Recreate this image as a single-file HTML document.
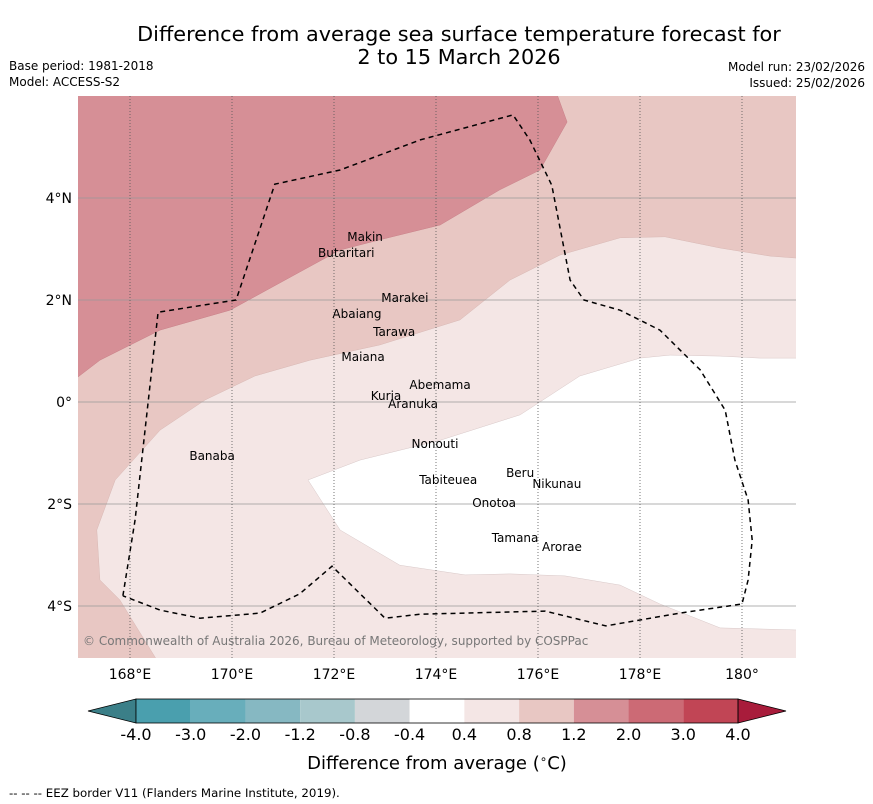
<!DOCTYPE html>
<html><head><meta charset="utf-8">
<style>
body{margin:0;background:#fff;width:873px;height:804px;overflow:hidden;font-family:"DejaVu Sans","Liberation Sans",sans-serif;}
svg{display:block}
</style></head>
<body>
<svg id="chart" width="873" height="804" font-family="DejaVu Sans, Liberation Sans, sans-serif">
<text x="459" y="41" text-anchor="middle" font-size="20.8">Difference from average sea surface temperature forecast for</text>
<text x="459" y="64" text-anchor="middle" font-size="20.8">2 to 15 March 2026</text>
<text x="9" y="70" font-size="12">Base period: 1981-2018</text>
<text x="9" y="86" font-size="12">Model: ACCESS-S2</text>
<text x="865" y="71" font-size="12" text-anchor="end">Model run: 23/02/2026</text>
<text x="865" y="87" font-size="12" text-anchor="end">Issued: 25/02/2026</text>
<defs><clipPath id="mapclip"><rect x="78" y="96" width="718" height="562"/></clipPath></defs>
<g id="map" clip-path="url(#mapclip)"></g>
<g id="overlay"></g>
<g id="cbar"></g>
<text x="437" y="769" text-anchor="middle" font-size="18">Difference from average (<tspan font-size="12" dy="-6">∘</tspan><tspan dy="6">C)</tspan></text>
<text x="9" y="797" font-size="11.8">--  --  -- EEZ border V11 (Flanders Marine Institute, 2019).</text>
</svg>
<script>
const lonTicks=[168,170,172,174,176,178,180];
const lonLabels=["168°E","170°E","172°E","174°E","176°E","178°E","180°"];
const latTicks=[4,2,0,-2,-4];
const latLabels=["4°N","2°N","0°","2°S","4°S"];
const levels=["-4.0","-3.0","-2.0","-1.2","-0.8","-0.4","0.4","0.8","1.2","2.0","3.0","4.0"];
const levelColors=["#4a9fae","#68aebb","#86b8c2","#a8c8cc","#d3d6d9","#ffffff","#f4e6e5","#e8c7c3","#d68f96","#cc6a75","#c14555"];
const zoneWhite=[[171.49,-1.53],[172.51,-1.14],[174.08,-0.75],[175.65,-0.25],[176.82,0.51],[178.0,0.86],[178.59,0.92],[179.57,0.90],[180.35,0.86],[181.1,0.86],[181.1,-4.47],[179.57,-4.43],[178.39,-3.96],[177.61,-3.59],[176.53,-3.41],[175.45,-3.37],[174.57,-3.39],[173.29,-3.20],[172.12,-2.51]];
const zone08=[[168.55,-5.1],[167.80,-3.88],[167.41,-3.49],[167.35,-2.51],[167.71,-1.53],[168.59,-0.55],[169.47,0.04],[170.45,0.51],[171.53,0.82],[172.90,1.12],[174.47,1.61],[175.45,2.39],[176.43,2.88],[177.61,3.22],[178.49,3.24],[179.57,3.02],[180.55,2.86],[181.1,2.82],[181.1,6.1],[166.9,6.1],[166.9,-5.1]];
const zone12=[[166.9,0.43],[167.41,0.82],[168.59,1.41],[169.96,1.80],[171.33,2.55],[172.12,2.98],[172.90,3.18],[174.08,3.47],[175.25,4.16],[176.04,4.55],[176.57,5.49],[176.35,6.1],[166.9,6.1]];
const eez=[[167.86,-3.80],[168.10,-2.31],[168.55,1.76],[170.08,2.0],[170.84,4.27],[172.12,4.55],[173.69,5.14],[175.51,5.63],[175.84,5.14],[176.27,4.25],[176.63,2.39],[176.90,2.0],[177.61,1.80],[178.39,1.41],[179.18,0.63],[179.67,-0.16],[179.86,-1.14],[180.12,-1.92],[180.20,-2.71],[180.12,-3.49],[180.0,-3.96],[178.78,-4.14],[177.33,-4.39],[176.14,-4.10],[173.69,-4.16],[173.0,-4.24],[171.96,-3.22],[171.33,-3.76],[170.55,-4.14],[169.37,-4.24],[168.59,-4.08],[167.86,-3.80]];
const islandNames=["Makin","Butaritari","Marakei","Abaiang","Tarawa","Maiana","Abemama","Kuria","Aranuka","Nonouti","Banaba","Beru","Nikunau","Tabiteuea","Onotoa","Tamana","Arorae"];
const islandLon=[172.61,172.24,173.39,172.45,173.18,172.57,174.08,173.02,173.55,173.98,169.61,175.65,176.37,174.24,175.14,175.55,176.47];
const islandLat=[3.24,2.92,2.04,1.73,1.37,0.88,0.33,0.12,-0.04,-0.82,-1.06,-1.39,-1.61,-1.53,-1.98,-2.67,-2.84];

const NS="http://www.w3.org/2000/svg";
const X0=79,Y0=402,PPD=51;
function xs(lon){return X0+(lon-167)*PPD;}
function ys(lat){return Y0-lat*PPD;}
function el(t,a,p){const e=document.createElementNS(NS,t);for(const k in a)e.setAttribute(k,a[k]);p.appendChild(e);return e;}
function pts(arr){return arr.map(p=>xs(p[0]).toFixed(1)+","+ys(p[1]).toFixed(1)).join(" ");}
const map=document.getElementById("map"),ov=document.getElementById("overlay");
let r=el("rect",{x:78,y:96,width:718,height:562,fill:levelColors[6]},map);


let p=el("polygon",{points:pts(zoneWhite),fill:levelColors[5],stroke:"#d8c8c8","stroke-width":0.5},map);


p=el("polygon",{points:pts(zone08),fill:levelColors[7],stroke:"#d8b8b4","stroke-width":0.5},map);


p=el("polygon",{points:pts(zone12),fill:levelColors[8],stroke:"#c88088","stroke-width":0.5},map);


latTicks.forEach((v,i)=>{
 const l=el("line",{x1:78,x2:796,y1:ys(v),y2:ys(v),stroke:"#999","stroke-width":0.8},map);
 
 
 const t=el("text",{x:72,y:ys(v)+5,"text-anchor":"end","font-size":14},ov);t.textContent=latLabels[i];
 
 
});
lonTicks.forEach((v,i)=>{
 const l=el("line",{x1:xs(v),x2:xs(v),y1:96,y2:658,stroke:"#555","stroke-width":0.8,"stroke-dasharray":"1,2"},map);
 
 
 const t=el("text",{x:xs(v),y:679,"text-anchor":"middle","font-size":14},ov);t.textContent=lonLabels[i];
 
 
});
p=el("polyline",{points:pts(eez),fill:"none",stroke:"#000","stroke-width":1.5,"stroke-dasharray":"5,4"},map);


islandNames.forEach((n,i)=>{
 const t=el("text",{x:xs(islandLon[i]),y:ys(islandLat[i])+4,"text-anchor":"middle","font-size":12},map);t.textContent=n;
 
 
});
const c=el("text",{x:83,y:645,"font-size":12,fill:"#777"},map);
c.textContent="© Commonwealth of Australia 2026, Bureau of Meteorology, supported by COSPPac";


const cb=document.getElementById("cbar");
const cx0=136,cx1=738,cy=699,ch=24,bw=(cx1-cx0)/levelColors.length;
let a=el("polygon",{points:`${cx0},${cy} 88,${cy+ch/2} ${cx0},${cy+ch}`,fill:"#3b7f88",stroke:"#000","stroke-width":0.8},cb);


levelColors.forEach((col,i)=>{
 const b=el("rect",{x:cx0+i*bw,y:cy,width:bw,height:ch,fill:col},cb);
 
 
});
a=el("polygon",{points:`${cx1},${cy} 786,${cy+ch/2} ${cx1},${cy+ch}`,fill:"#a81c3b",stroke:"#000","stroke-width":0.8},cb);


el("rect",{x:cx0,y:cy,width:cx1-cx0,height:ch,fill:"none",stroke:"#000","stroke-width":0.8},cb);
levels.forEach((v,i)=>{
 const t=el("text",{x:cx0+i*bw,y:740,"text-anchor":"middle","font-size":16},cb);t.textContent=v;
 
 
});
</script>
</body></html>
